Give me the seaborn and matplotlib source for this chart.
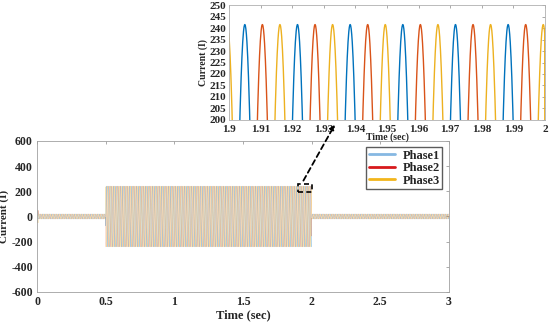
import numpy as np
import pandas as pd
import matplotlib.pyplot as plt
import seaborn as sns
from matplotlib.patches import Rectangle, ConnectionPatch
from matplotlib.lines import Line2D

# waveform description
phases = ['Phase1', 'Phase2', 'Phase3']
phase_shift_deg = [0, -120, -240]          # Phase2 / Phase3 lag Phase1 by T/3
freq_hz = 60
seg_edges = [0.0, 0.01, 0.5, 2.0, 3.0]     # s
seg_amps = [50, 20, 241.5, 20]             # peak current per segment
first_peak = 1.905                         # Phase1 peak seen in zoom

main_colors = ['#0072BD', '#D95319', '#EDB120']
legend_colors = ['#86b8e2', '#d7191c', '#f2b51c']

# build the long table
t = np.arange(0, 3.0, 1 / 12000)
amp = np.zeros_like(t)
for i in range(len(seg_amps)):
    amp[(t >= seg_edges[i]) & (t < seg_edges[i + 1])] = seg_amps[i]

frames = []
for name, sh in zip(phases, phase_shift_deg):
    y = amp * np.cos(2 * np.pi * freq_hz * (t - first_peak) + np.deg2rad(sh))
    frames.append(pd.DataFrame({'Time': t, 'Current': y, 'Phase': name}))
df = pd.concat(frames, ignore_index=True)

sns.set_theme(style='white')
plt.rcParams['font.family'] = ['Liberation Serif', 'DejaVu Serif']
plt.rcParams['font.weight'] = 'bold'
plt.rcParams['axes.unicode_minus'] = False

fig = plt.figure(figsize=(5.5, 3.23), dpi=100)

# main plot
ax = fig.add_axes([0.0673, 0.096, 0.749, 0.4675])
sns.lineplot(data=df, x='Time', y='Current', hue='Phase', palette=main_colors,
             estimator=None, sort=False, lw=0.3, alpha=0.4, legend=False, ax=ax)
ax.set_xlim(0, 3)
ax.set_ylim(-600, 600)
ax.set_xticks([0, 0.5, 1, 1.5, 2, 2.5, 3])
ax.set_xticklabels(['0', '0.5', '1', '1.5', '2', '2.5', '3'])
ax.set_yticks(range(-600, 601, 200))
ax.set_xlabel('Time (sec)', fontsize=9, fontweight='bold', labelpad=1)
ax.set_ylabel('Current (I)', fontsize=8, fontweight='bold')
ax.yaxis.set_label_coords(-0.069, 0.5)
ax.tick_params(direction='in', top=True, right=True, length=2.5, width=0.5,
               labelsize=8.5, pad=3, color='#888888')
for s in ax.spines.values():
    s.set_color('#a0a0a0')
    s.set_linewidth(0.6)

handles = [Line2D([], [], color=c, lw=2) for c in legend_colors]
leg = ax.legend(handles, phases, loc='upper right', fontsize=9, frameon=True,
                fancybox=False, borderpad=0.2, labelspacing=0.05,
                handlelength=2.1, handletextpad=0.6, borderaxespad=0.3,
                bbox_to_anchor=(0.993, 0.985))
leg.get_frame().set_edgecolor('#333333')
leg.get_frame().set_linewidth(1.0)
for txt in leg.get_texts():
    txt.set_fontweight('bold')

# zoom box on main plot
ax.add_patch(Rectangle((1.9, 195), 0.1, 60, fill=False, ec='black', lw=1.2,
                       ls=(0, (3, 2)), zorder=5))

# inset
axin = fig.add_axes([0.4164, 0.6285, 0.5745, 0.356])
sns.lineplot(data=df[(df['Time'] >= 1.895) & (df['Time'] <= 2.0)], x='Time', y='Current',
             hue='Phase', palette=main_colors, estimator=None, sort=False,
             lw=1.0, legend=False, ax=axin)
axin.set_xlim(1.9, 2.0)
axin.set_ylim(200, 250)
xt = np.round(np.arange(1.9, 2.0001, 0.01), 2)
axin.set_xticks(xt)
axin.set_xticklabels(['1.9'] + [f'{v:.2f}' for v in xt[1:-1]] + ['2'])
axin.set_yticks(range(200, 251, 5))
axin.set_xlabel('Time (sec)', fontsize=7, fontweight='bold', labelpad=-1)
axin.set_ylabel('Current (I)', fontsize=7, fontweight='bold', labelpad=1)
axin.tick_params(direction='in', top=True, right=True, length=2, width=0.5,
                 labelsize=8, color='#888888')
axin.tick_params(axis='x', pad=3.5)
axin.tick_params(axis='y', pad=2)
for s in axin.spines.values():
    s.set_color('#b0b0b0')
    s.set_linewidth(0.6)

con = ConnectionPatch(xyA=(1.94, 285), coordsA=ax.transData,
                      xyB=(1.9335, 198), coordsB=axin.transData,
                      arrowstyle='-|>', mutation_scale=7, ls=(0, (3, 2)),
                      lw=1.3, color='black', zorder=10)
fig.add_artist(con)

fig.savefig('out.png', dpi=100)
